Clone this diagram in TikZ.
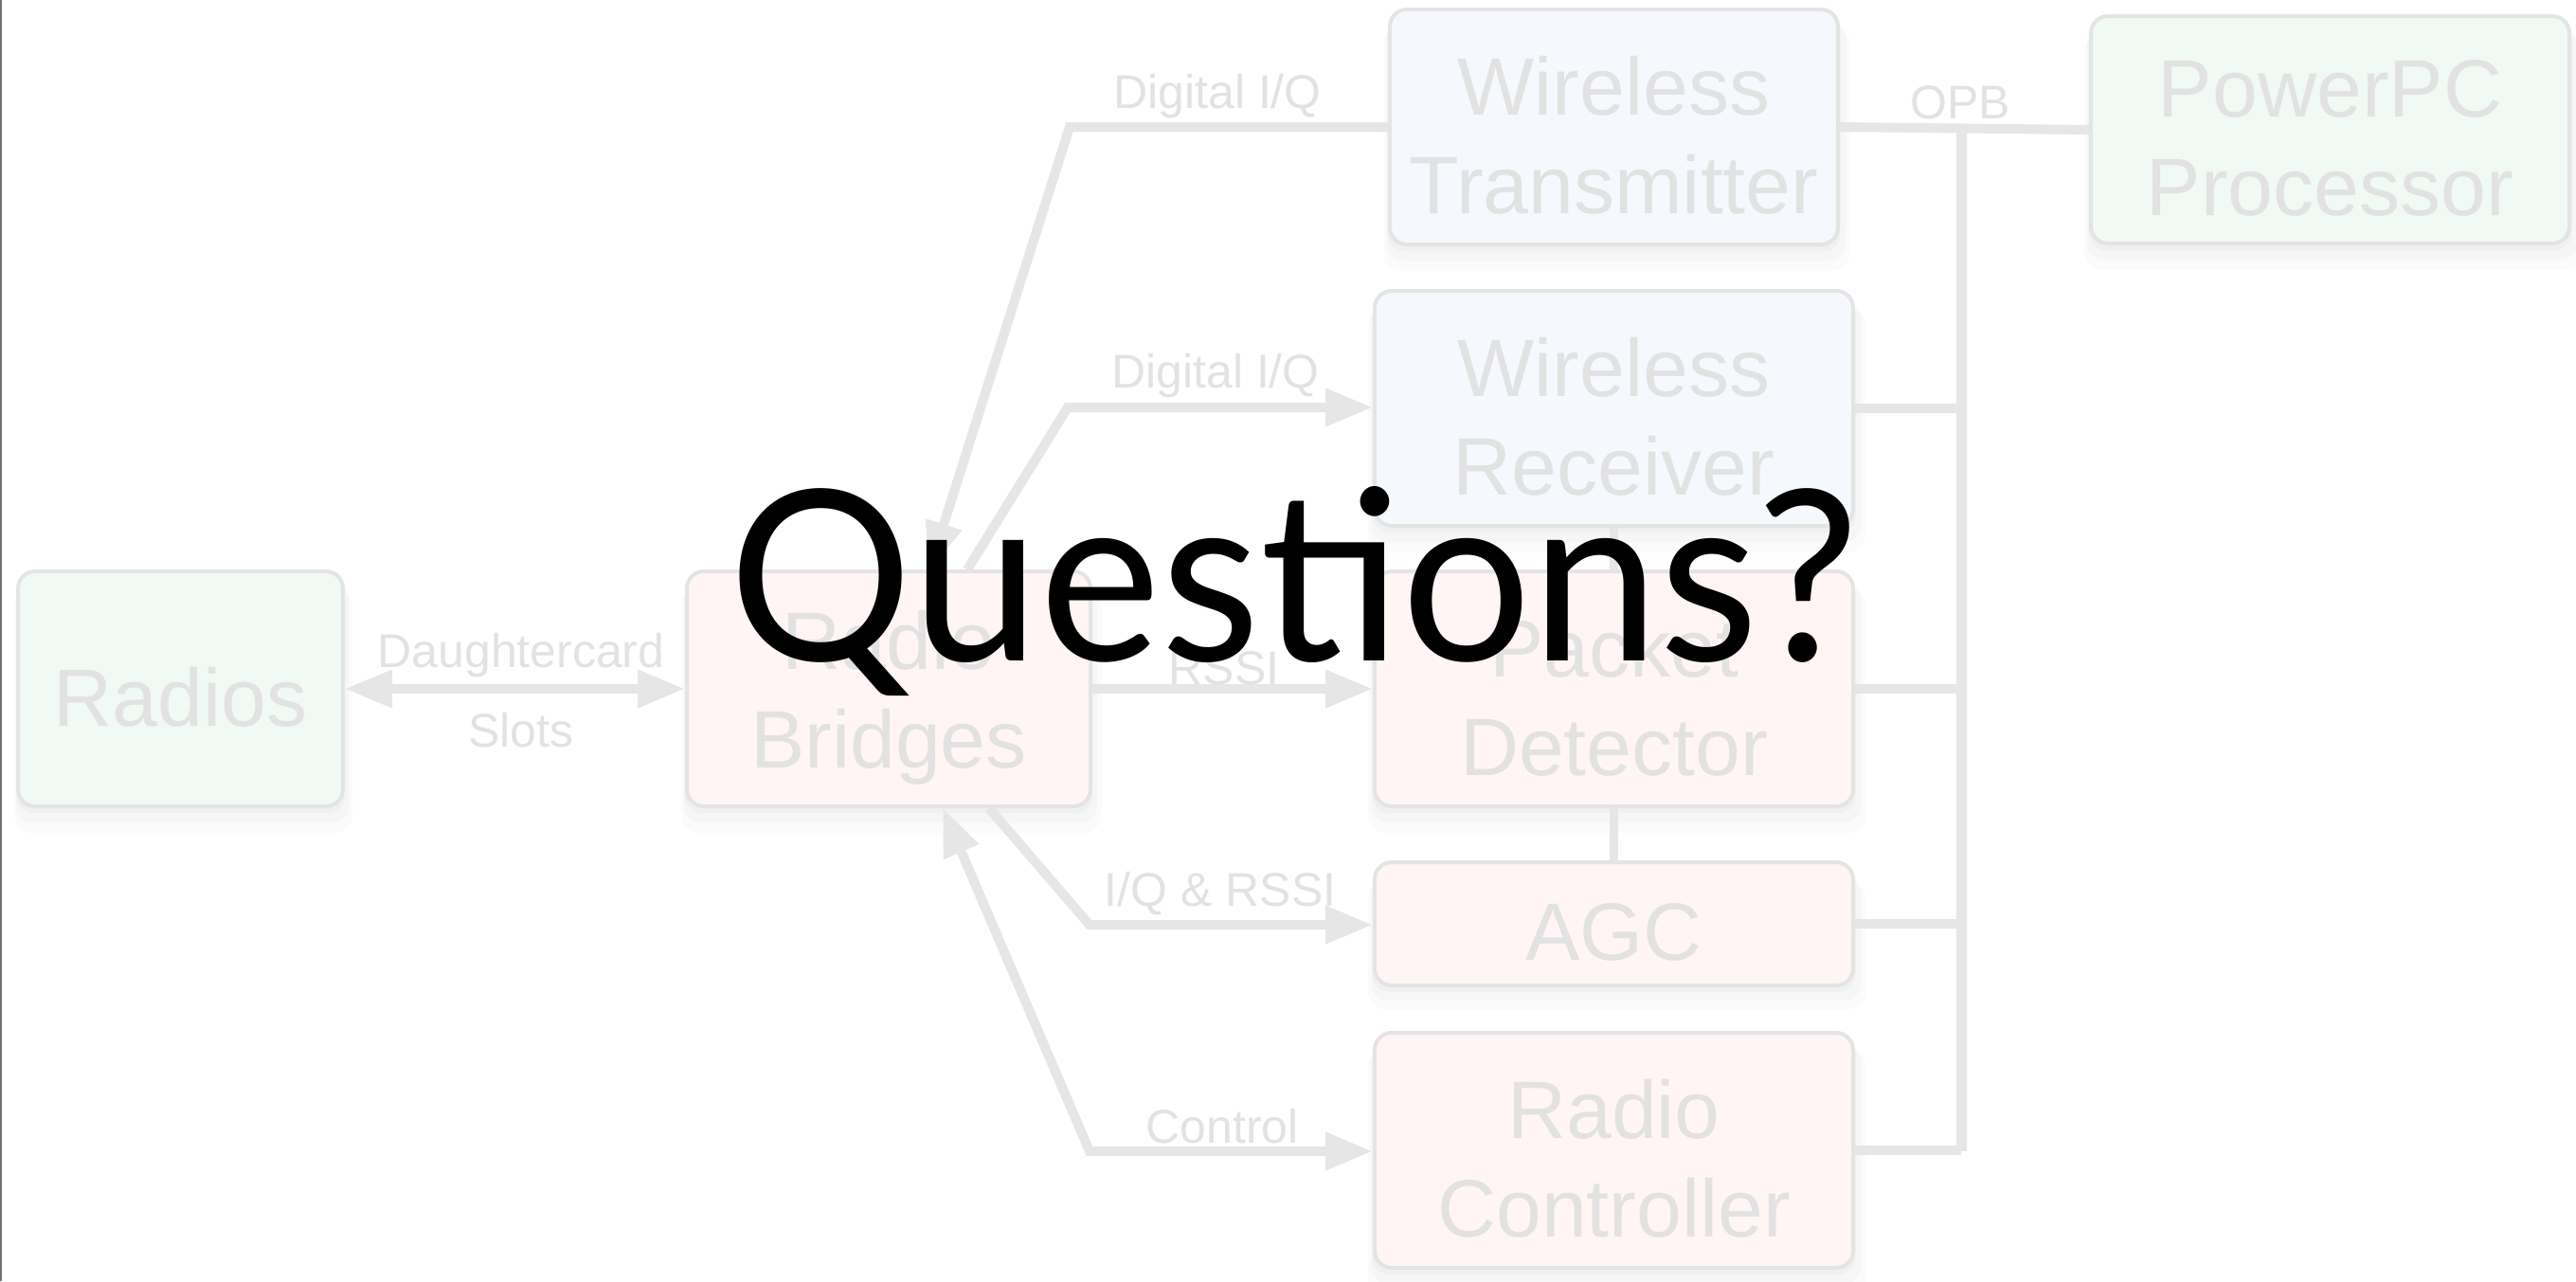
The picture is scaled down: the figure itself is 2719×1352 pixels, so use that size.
\documentclass[tikz,border=0pt]{standalone}
\usepackage{fontspec}
\setmainfont{Liberation Sans}
\newfontfamily\qfont{Lato}
\usetikzlibrary{arrows.meta,shadows,calc}
\definecolor{linec}{HTML}{E6E6E6}
\definecolor{boxline}{HTML}{E4E4E4}
\definecolor{txtc}{HTML}{E2E2E2}
\definecolor{fgreen}{HTML}{F0F9F3}
\definecolor{fred}{HTML}{FFF5F4}
\definecolor{fblue}{HTML}{F5F8FD}
\begin{document}
\begin{tikzpicture}[x=1pt,y=-1pt,
  box/.style={draw=boxline, line width=4pt, rounded corners=18pt,
    inner sep=0pt,
    general shadow={shadow xshift=0pt, shadow yshift=-6pt, shadow scale=1.01, opacity=0.025, fill=black},
    general shadow={shadow xshift=2pt, shadow yshift=-14pt, shadow scale=1.025, opacity=0.02, fill=black},
    general shadow={shadow xshift=3pt, shadow yshift=-22pt, shadow scale=1.04, opacity=0.015, fill=black}},
  btext/.style={align=center, inner sep=0pt, text=txtc, yshift=-9pt,
    font=\fontsize{86}{104}\selectfont},
  conn/.style={draw=linec, line width=10pt, line join=miter},
  bus/.style={draw=linec, line width=11pt},
  thinconn/.style={draw=linec, line width=9pt},
  tip/.style={-{Triangle[length=50pt,width=38pt]}},
  tips/.style={{Triangle[length=50pt,width=38pt]}-{Triangle[length=50pt,width=38pt]}},
  lbl/.style={text=txtc, font=\fontsize{50}{60}\selectfont, inner sep=0pt, yshift=-5pt}]
\useasboundingbox (0,0) rectangle (2719,1352);
\fill[white] (0,0) rectangle (2719,1352);
\draw[line width=2.5pt, color=black!55] (1.2,0) -- (1.2,1352);

% boxes
\node[box, fill=fgreen, minimum width=343pt, minimum height=248pt,
  label={[btext]center:Radios}] (ra) at (190.5,727) {};
\node[box, fill=fred, minimum width=426pt, minimum height=248pt,
  label={[btext]center:{Radio\\Bridges}}] (br) at (938,727) {};
\node[box, fill=fblue, minimum width=473pt, minimum height=248pt,
  label={[btext]center:{Wireless\\Transmitter}}] (tx) at (1703.5,134) {};
\node[box, fill=fgreen, minimum width=505pt, minimum height=240pt,
  label={[btext]center:{PowerPC\\Processor}}] (pp) at (2459.5,137) {};
\node[box, fill=fblue, minimum width=505pt, minimum height=248pt,
  label={[btext]center:{Wireless\\Receiver}}] (rx) at (1703.5,431) {};
\node[box, fill=fred, minimum width=505pt, minimum height=248pt,
  label={[btext]center:{Packet\\Detector}}] (det) at (1703.5,727) {};
\node[box, fill=fred, minimum width=505pt, minimum height=130pt,
  label={[btext]center:AGC}] (agc) at (1703.5,975) {};
\node[box, fill=fred, minimum width=505pt, minimum height=248pt,
  label={[btext]center:{Radio\\Controller}}] (rc) at (1703.5,1214) {};

% bus
\coordinate (bt) at (2070,135);
\coordinate (bb) at (2070,1215);
\draw[conn] (tx.east) -- (pp.west);
\draw[bus] (bt) -- (bb);
\draw[conn] (rx.east) -- (rx.east -| bb);
\draw[conn] (det.east) -- (det.east -| bb);
\draw[conn] (agc.east) -- (agc.east -| bb);
\draw[conn] (rc.east) -- (rc.east -| bb);
\node[lbl] (opb) at (2069,103) {OPB};

% vertical links
\draw[thinconn] (rx.south) -- (det.north);
\draw[thinconn] (det.south) -- (agc.north);

% connectors from Radio Bridges
\draw[conn, tips] (ra.east) -- (br.west);
\node[lbl] (dc) at (550,687) {Daughtercard};
\node[lbl] (sl) at (550,766) {Slots};

\draw[conn, tip] (tx.west) -- ++(-336,0) -- ($(br.north west)+(258,0)$);
\node[lbl] (l1) at (1285,97) {Digital I/Q};

\draw[conn, tip] ($(br.north west)+(298,0)$) -- (1127,430) -- (rx.west |- 0,430);
\node[lbl] (l2) at (1283,392) {Digital I/Q};

\draw[conn, tip] (br.east) -- (det.west);
\node[lbl] (l3) at (1292,700) {RSSI};

\draw[conn, tip] ($(br.south west)+(321,0)$) -- (1150,976) -- (agc.west |- 0,976);
\node[lbl] (l4) at (1288,938) {I/Q \& RSSI};

\draw[conn, tips] ($(br.south west)+(272,0)$) -- (1150,1215) -- (rc.west |- 0,1215);
\node[lbl] (l5) at (1290,1184) {Control};

% overlay title
\node[inner sep=0pt, anchor=base, text=black] (q) at (1366,697)
  {\resizebox{1190pt}{184pt}{\qfont Questions?}};
\end{tikzpicture}
\end{document}
